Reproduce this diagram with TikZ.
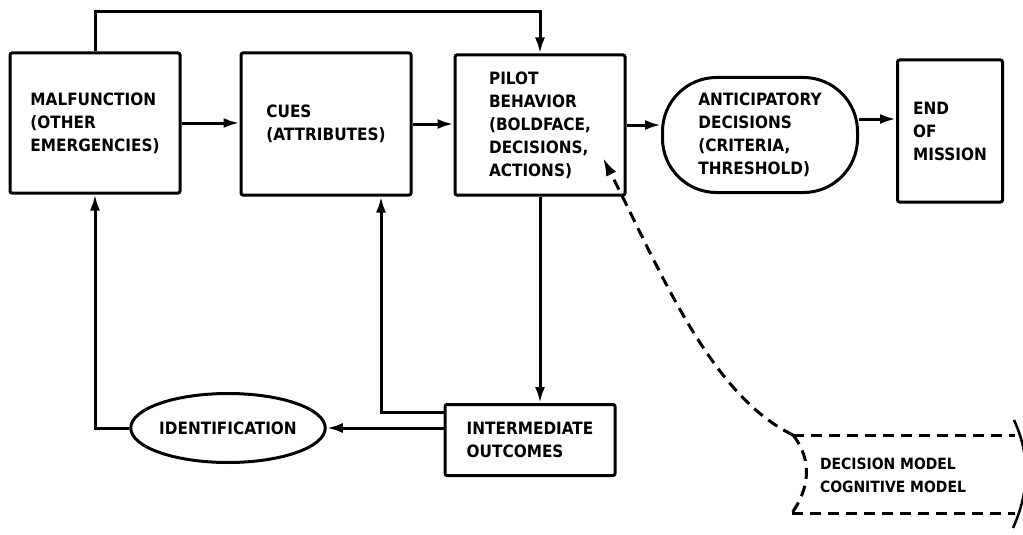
\documentclass[tikz,border=0pt]{standalone}
\usepackage{fontspec}
\newfontfamily\diagfont{DejaVu Sans Condensed Bold}
\usetikzlibrary{arrows.meta,shapes.geometric}

\begin{document}
\begin{tikzpicture}[x=1pt,y=-1pt]
\tikzstyle{blok}=[draw, line width=3pt, rounded corners=2pt, align=left, inner sep=0pt]
\tikzstyle{oval}=[draw, ellipse, line width=3pt, align=left, inner sep=0pt]
\tikzstyle{arr}=[line width=3pt, -{Latex[length=16pt,width=10pt]}]
\tikzstyle{dashline}=[line width=3pt, dash pattern=on 11pt off 7pt]
\tikzstyle{every node}=[font=\diagfont\fontsize{17}{23}\selectfont]

\useasboundingbox (0,0) rectangle (1023,535);

% top row
\node[blok, minimum width=170pt, minimum height=140pt] (malf) at (95,123) {MALFUNCTION\\(OTHER\\EMERGENCIES)};
\node[blok, minimum width=170pt, minimum height=142pt] (cues) at (326,124) {CUES\\(ATTRIBUTES)};
\node[blok, minimum width=170pt, minimum height=140pt] (pilot) at (540,125) {PILOT\\BEHAVIOR\\(BOLDFACE,\\DECISIONS,\\ACTIONS)};
\node[blok, rounded corners=54pt, minimum width=195pt, minimum height=115pt] (antic) at (760,135) {ANTICIPATORY\\DECISIONS\\(CRITERIA,\\THRESHOLD)};
\node[blok, minimum width=105pt, minimum height=142pt] (endm) at (950,131) {END\\OF\\MISSION};

% bottom row
\node[oval, minimum width=187pt, minimum height=69pt] (ident) at (228,428) {IDENTIFICATION};
\node[blok, minimum width=170pt, minimum height=71pt] (inter) at (530,440) {INTERMEDIATE\\OUTCOMES};

% models callout
\node[align=left, font=\diagfont\fontsize{15.5}{23}\selectfont] (dm) at (893,475) {DECISION MODEL\\COGNITIVE MODEL};
\coordinate (dmA) at (793,435);
\coordinate (dmB) at (1015,435);
\coordinate (dmC) at (792,513);
\coordinate (dmD) at (1015,513);
\draw[dashline] (dmA) -- (dmB);
\draw[dashline] (dmC) -- (dmD);
\draw[dashline] (dmA) .. controls (814,462) and (808,490) .. (dmC);
\draw[line width=2.5pt] (1014,420) .. controls (1030,455) and (1030,490) .. (1013,528);

% connectors
\coordinate (topline) at (0,12);
\draw[arr] (malf.north) -- (malf.north |- topline) -| (pilot.north);
\draw[arr] (malf.east) -- (malf.east -| cues.west);
\draw[arr] (cues.east) -- (cues.east -| pilot.west);
\draw[arr] (pilot.east) -- (pilot.east -| antic.west);
\draw[arr] ([yshift=16pt]antic.east) -- ([yshift=16pt]antic.east -| endm.west);
\draw[arr] (pilot.south) -- (pilot.south |- inter.north);
\draw[arr] ([yshift=28pt]inter.west) -| ([xshift=55pt]cues.south);
\draw[arr] (inter.west |- ident.east) -- (ident.east);
\draw[arr] (ident.west) -| (malf.south);

\coordinate (dmtip) at ([xshift=63pt,yshift=-33pt]pilot.center);
\draw[dashline, -{Latex[length=18pt,width=11pt]}] (dmA) .. controls (710,395) and (660,270) .. (dmtip);
\end{tikzpicture}
\end{document}
